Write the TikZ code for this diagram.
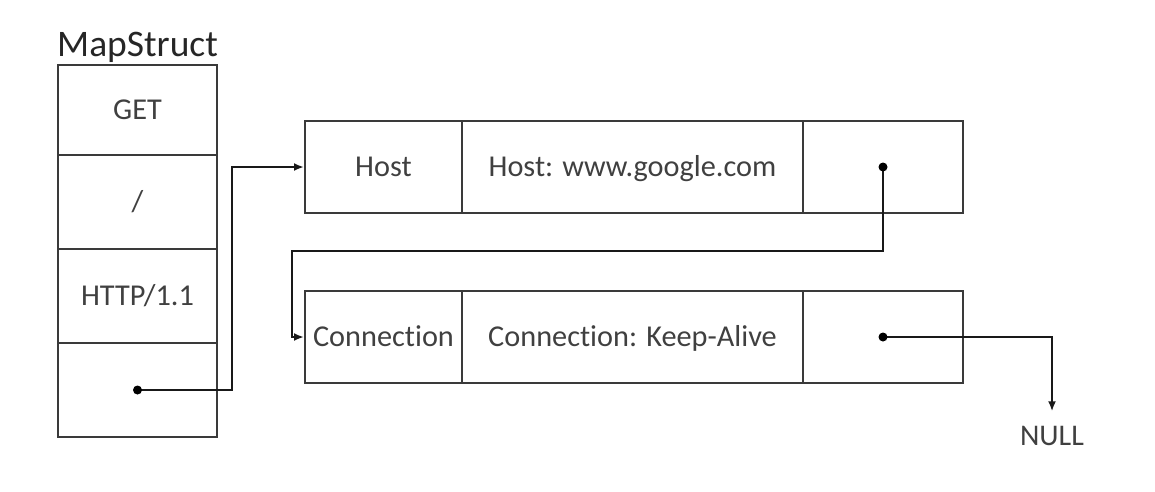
\documentclass[tikz,border=0pt]{standalone}
\usepackage{fontspec}
\setmainfont{Carlito}[Ligatures={NoCommon}]
\usetikzlibrary{arrows.meta}
\definecolor{linec}{HTML}{3A3A3A}
\definecolor{textc}{HTML}{404040}
\newcommand{\nolig}{\kern0pt\relax}
\tikzset{
  cell/.style={draw=linec, line width=2pt, inner sep=0pt, text=textc,
    font=\fontsize{30.3}{36}\selectfont, text height=19pt, text depth=0pt},
  link/.style={draw=black!90, line width=2pt, -{Latex[length=10pt,width=8pt]}},
  dot/.style={fill=black}
}
\begin{document}
\begin{tikzpicture}[x=1pt,y=-1pt]
\useasboundingbox (0,0) rectangle (1155,491);
% MapStruct
\node[anchor=base west, inner sep=0pt, text=black!85, font=\fontsize{37.5}{44}\selectfont] (title) at (57,56) {MapStruct};
\node[cell, minimum width=159pt, minimum height=90pt] (m1) at (137.5,110) {GET};
\node[cell, minimum width=159pt, minimum height=94pt] (m2) at (137.5,202) {/};
\node[cell, minimum width=159pt, minimum height=94pt] (m3) at (137.5,296) {HTTP/1.1};
\node[cell, minimum width=159pt, minimum height=94pt] (m4) at (137.5,390) {};
% Host row
\node[cell, minimum width=157pt, minimum height=92pt] (h1) at (383.5,167) {Host};
\node[cell, minimum width=341pt, minimum height=92pt] (h2) at (632.5,167) {Host: www.google.com};
\node[cell, minimum width=160pt, minimum height=92pt] (h3) at (883,167) {};
% Connection row
\node[cell, minimum width=157pt, minimum height=92pt] (c1) at (383.5,337) {Connect\nolig ion};
\node[cell, minimum width=341pt, minimum height=92pt] (c2) at (632.5,337) {Connect\nolig ion: Keep-Alive};
\node[cell, minimum width=160pt, minimum height=92pt] (c3) at (883,337) {};
% NULL
\node[inner sep=0pt, text=textc, font=\fontsize{30}{36}\selectfont, text height=19pt, text depth=0pt] (null) at (1052,436) {NULL};
% junction points
\coordinate (j1) at (232,390);
\coordinate (j2) at (883,251);
\coordinate (j3) at (292,251);
% connectors
\draw[link] (m4.center) -- (j1) |- (h1.west);
\draw[link] (h3.center) -- (j2) -- (j3) |- (c1.west);
\draw[link, shorten >=15pt] (c3.center) -| (null.north);
% dots
\fill[dot] (m4.center) circle (4.5pt);
\fill[dot] (h3.center) circle (4.5pt);
\fill[dot] (c3.center) circle (4.5pt);
\end{tikzpicture}
\end{document}
